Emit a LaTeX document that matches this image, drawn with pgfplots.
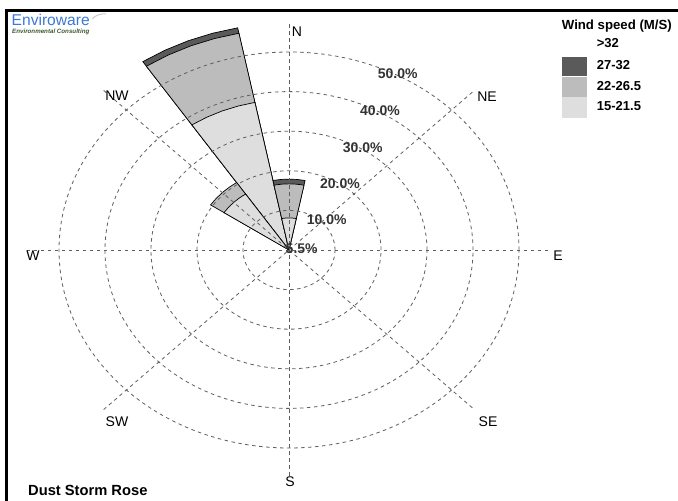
\documentclass[border=0pt]{standalone}
\usepackage{fontspec}
\setmainfont{Liberation Sans}
\usepackage{pgfplots}
\pgfplotsset{compat=1.18}
\definecolor{cdark}{RGB}{90,90,90}
\definecolor{cmed}{RGB}{188,188,188}
\definecolor{clight}{RGB}{222,222,222}
\definecolor{gridc}{RGB}{95,95,95}
\definecolor{logoblue}{RGB}{60,120,215}
\definecolor{logogreen}{RGB}{60,90,50}
\tikzset{gridsty/.style={draw=gridc, line width=0.8bp, dash pattern=on 3.5bp off 3.5bp}}
\begin{document}
\begin{tikzpicture}
\path[use as bounding box] (0,0) rectangle (678bp,501bp);
\fill[white] (0,0) rectangle (678bp,501bp);
\begin{axis}[at={(289bp,251bp)}, anchor=center,
  scale only axis, width=552bp, height=475.2bp,
  xmin=-60, xmax=60, ymin=-60, ymax=60,
  hide axis, clip=false]
% NNW petal (centre 337.5 deg compass -> 112.5 deg math)
\addplot[fill=cdark, draw=black, line width=0.7bp, data cs=polar] coordinates {(0,0) (101.25,57.2) (106.875,57.2) (112.5,57.2) (118.125,57.2) (123.75,57.2) (0,0)} -- cycle;
\addplot[fill=cmed, draw=black, line width=0.7bp, data cs=polar] coordinates {(0,0) (101.25,55.8) (106.875,55.8) (112.5,55.8) (118.125,55.8) (123.75,55.8) (0,0)} -- cycle;
\addplot[fill=clight, draw=black, line width=0.7bp, data cs=polar] coordinates {(0,0) (101.25,38.0) (106.875,38.0) (112.5,38.0) (118.125,38.0) (123.75,38.0) (0,0)} -- cycle;
% NW petal (315 deg compass -> 135 deg math)
\addplot[fill=cmed, draw=black, line width=0.7bp, data cs=polar] coordinates {(0,0) (123.75,20.5) (129.375,20.5) (135,20.5) (140.625,20.5) (146.25,20.5) (0,0)} -- cycle;
\addplot[fill=clight, draw=black, line width=0.7bp, data cs=polar] coordinates {(0,0) (123.75,17.0) (129.375,17.0) (135,17.0) (140.625,17.0) (146.25,17.0) (0,0)} -- cycle;
% N petal (0 deg compass -> 90 deg math)
\addplot[fill=cdark, draw=black, line width=0.7bp, data cs=polar] coordinates {(0,0) (78.75,17.9) (84.375,17.9) (90,17.9) (95.625,17.9) (101.25,17.9) (0,0)} -- cycle;
\addplot[fill=cmed, draw=black, line width=0.7bp, data cs=polar] coordinates {(0,0) (78.75,16.7) (84.375,16.7) (90,16.7) (95.625,16.7) (101.25,16.7) (0,0)} -- cycle;
\addplot[fill=clight, draw=black, line width=0.7bp, data cs=polar] coordinates {(0,0) (78.75,8.1) (84.375,8.1) (90,8.1) (95.625,8.1) (101.25,8.1) (0,0)} -- cycle;
% grid
\draw[gridsty] (axis cs:0,0) ellipse [x radius=46bp, y radius=39.6bp];
\draw[gridsty] (axis cs:0,0) ellipse [x radius=92bp, y radius=79.2bp];
\draw[gridsty] (axis cs:0,0) ellipse [x radius=138bp, y radius=118.8bp];
\draw[gridsty] (axis cs:0,0) ellipse [x radius=184bp, y radius=158.4bp];
\draw[gridsty] (axis cs:0,0) ellipse [x radius=230bp, y radius=198bp];
\draw[gridsty] (axis cs:0,-57) -- (axis cs:0,57);
\draw[gridsty] (axis cs:-57,0) -- (axis cs:57,0);
\draw[gridsty] (axis cs:-40.3,-40.3) -- (axis cs:40.3,40.3);
\draw[gridsty] (axis cs:-40.3,40.3) -- (axis cs:40.3,-40.3);
\end{axis}
\begin{scope}[x=1bp, y=-1bp, yshift=501bp]
% frame
\draw[line width=3bp] (5,10.8) -- (678,10.8);
\draw[line width=3bp] (6.3,9.3) -- (6.3,501);
% logo
\node[anchor=base west, inner sep=0, text=logoblue, font=\fontsize{15.6bp}{15.6bp}\selectfont] at (11.5,25.5) {Enviroware};
\node[anchor=base west, inner sep=0, text=logogreen, font=\fontsize{6.2bp}{6.2bp}\selectfont\bfseries\itshape] at (12,33.5) {Environmental Consulting};
\draw[black!20, line width=1bp] (92,19) to[bend left=25] (106,14);
% percentages
\begin{scope}[every node/.style={inner sep=0, font=\fontsize{14bp}{14bp}\selectfont\bfseries, text=black!80}]
\node at (397.7,73.3) {50.0\%};
\node at (380,111) {40.0\%};
\node at (362.7,147.3) {30.0\%};
\node at (340,184) {20.0\%};
\node at (326.7,220) {10.0\%};
\node at (301.7,249) {5.5\%};
\end{scope}
% directions
\begin{scope}[every node/.style={inner sep=0, font=\fontsize{14bp}{14bp}\selectfont}]
\node at (297,32) {N};
\node at (487,97) {NE};
\node at (558,256) {E};
\node at (488,422) {SE};
\node at (290,482) {S};
\node at (117,422) {SW};
\node at (33,256) {W};
\node at (117,96) {NW};
\end{scope}
% legend
\node[anchor=west, inner sep=0, font=\fontsize{13.2bp}{13.2bp}\selectfont\bfseries] at (561.7,25.7) {Wind speed (M/S)};
\fill[cdark] (561.7,56.7) rectangle (587.3,76.4);
\fill[cmed] (561.7,77.2) rectangle (587.3,96.8);
\fill[clight] (561.7,97.4) rectangle (587.3,118.3);
\begin{scope}[every node/.style={anchor=west, inner sep=0, font=\fontsize{13bp}{13bp}\selectfont\bfseries}]
\node at (596.7,42.7) {>32};
\node at (596.7,65) {27-32};
\node at (596.7,85.7) {22-26.5};
\node at (596.7,106) {15-21.5};
\end{scope}
% title
\node[anchor=west, inner sep=0, font=\fontsize{14.7bp}{14.7bp}\selectfont\bfseries] at (28,490) {Dust Storm Rose};
\end{scope}
\end{tikzpicture}
\end{document}
